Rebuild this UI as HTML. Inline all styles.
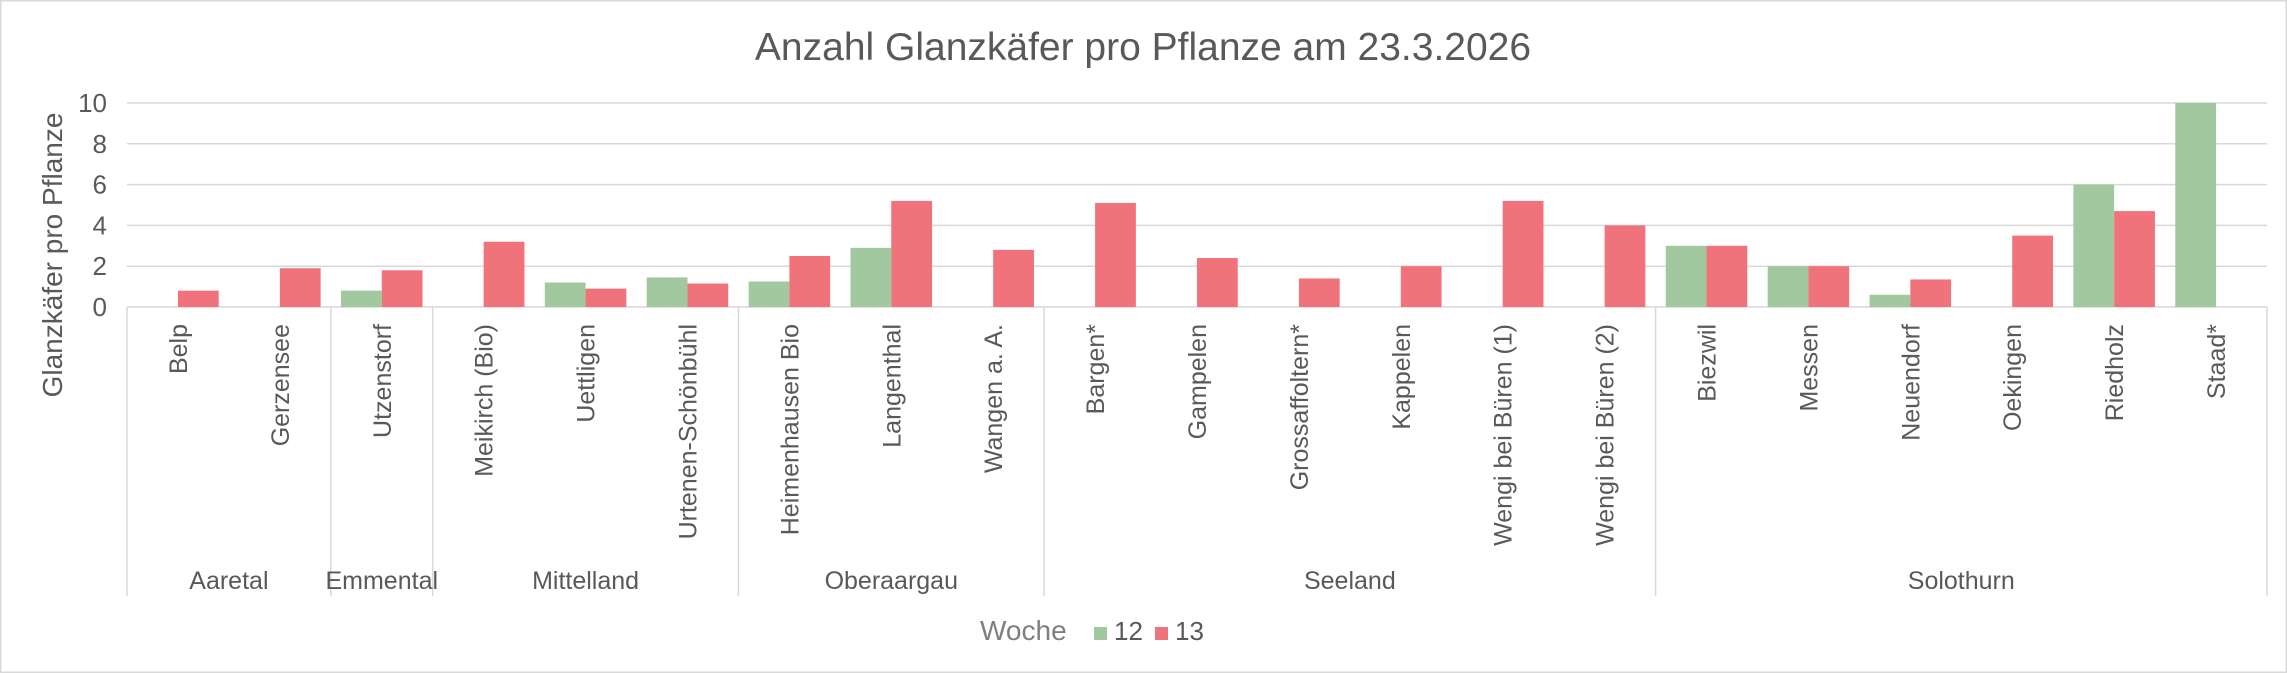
<!DOCTYPE html>
<html><head><meta charset="utf-8"><style>
html,body{margin:0;padding:0;background:#fff}
svg{display:block}
text{font-family:"Liberation Sans",sans-serif;fill:#595959}
</style></head><body>
<svg width="2287" height="673" viewBox="0 0 2287 673" xmlns="http://www.w3.org/2000/svg">
<rect x="0.5" y="0.5" width="2286" height="672" fill="#fff" stroke="#d9d9d9" stroke-width="2"/>
<text x="1143" y="60" font-size="39" text-anchor="middle">Anzahl Glanzkäfer pro Pflanze am 23.3.2026</text>
<g stroke="#d9d9d9" stroke-width="1.5">
<line x1="127" x2="2267" y1="103" y2="103"/>
<line x1="127" x2="2267" y1="143.8" y2="143.8"/>
<line x1="127" x2="2267" y1="184.6" y2="184.6"/>
<line x1="127" x2="2267" y1="225.4" y2="225.4"/>
<line x1="127" x2="2267" y1="266.2" y2="266.2"/>
<line x1="127" x2="2267" y1="307" y2="307"/>
</g>
<g font-size="26" text-anchor="end">
<text x="107" y="112">10</text><text x="107" y="152.8">8</text><text x="107" y="193.6">6</text>
<text x="107" y="234.4">4</text><text x="107" y="275.2">2</text><text x="107" y="316">0</text>
</g>
<text transform="translate(62,255) rotate(-90)" font-size="28" text-anchor="middle">Glanzkäfer pro Pflanze</text>
<g id="bars"></g>
<g stroke="#d9d9d9" stroke-width="1.5" id="seps"></g>
<g font-size="25" id="cats"></g>
<g font-size="25" text-anchor="middle" id="grps"></g>
<text x="980" y="640" font-size="28" style="fill:#7f7f7f">Woche</text>
<rect x="1094" y="627" width="13" height="13" fill="#a1c89e"/>
<text x="1114" y="640" font-size="26">12</text>
<rect x="1155" y="627" width="13" height="13" fill="#f0727a"/>
<text x="1175" y="640" font-size="26">13</text>
<script>
var cats=["Belp","Gerzensee","Utzenstorf","Meikirch (Bio)","Uettligen","Urtenen-Schönbühl","Heimenhausen Bio","Langenthal","Wangen a. A.","Bargen*","Gampelen","Grossaffoltern*","Kappelen","Wengi bei Büren (1)","Wengi bei Büren (2)","Biezwil","Messen","Neuendorf","Oekingen","Riedholz","Staad*"];
var g=[0,0,0.8,0,1.2,1.45,1.25,2.9,0,0,0,0,0,0,0,3,2,0.6,0,6,10];
var r=[0.8,1.9,1.8,3.2,0.9,1.15,2.5,5.2,2.8,5.1,2.4,1.4,2.0,5.2,4.0,3,2,1.35,3.5,4.7,0];
var x0=127,w=(2267-127)/21,y0=307,s=20.4,ns="http://www.w3.org/2000/svg";
function el(t,a,p,txt){var e=document.createElementNS(ns,t);for(var k in a)e.setAttribute(k,a[k]);if(txt)e.textContent=txt;document.getElementById(p).appendChild(e);}
for(var i=0;i<21;i++){var cx=x0+i*w;
if(g[i]>0)el("rect",{x:cx+0.1*w,y:y0-g[i]*s,width:0.4*w,height:g[i]*s,fill:"#a1c89e"},"bars");
if(r[i]>0)el("rect",{x:cx+0.5*w,y:y0-r[i]*s,width:0.4*w,height:r[i]*s,fill:"#f0727a"},"bars");
el("text",{transform:"translate("+(cx+w/2+9)+",324) rotate(-90)","text-anchor":"end"},"cats",cats[i]);}
[0,2,3,6,9,15,21].forEach(function(b){var x=x0+b*w;el("line",{x1:x,x2:x,y1:307,y2:596},"seps");});
var grp=[["Aaretal",0,2],["Emmental",2,3],["Mittelland",3,6],["Oberaargau",6,9],["Seeland",9,15],["Solothurn",15,21]];
grp.forEach(function(q){el("text",{x:x0+(q[1]+q[2])/2*w,y:589},"grps",q[0]);});
</script>
</svg>
</body></html>
